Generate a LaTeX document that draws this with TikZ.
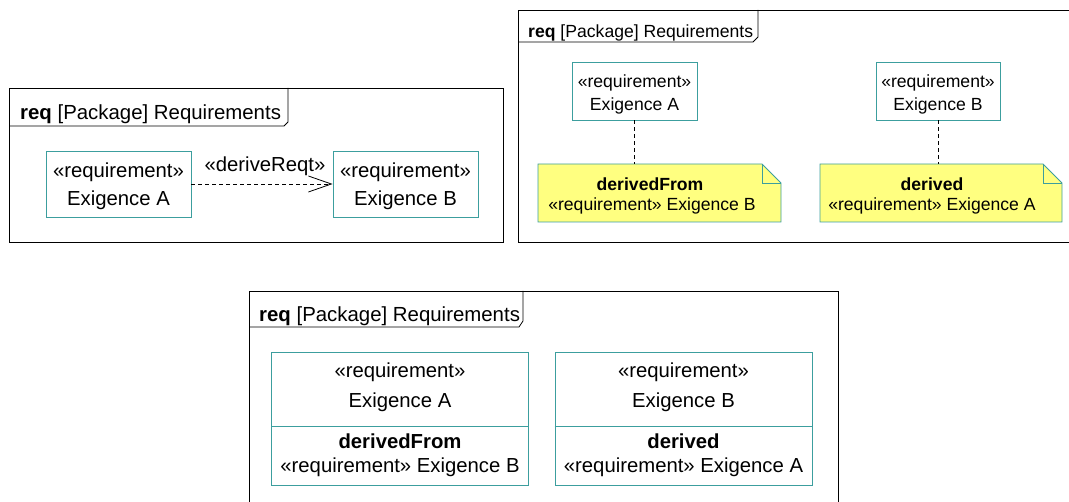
\documentclass[tikz,border=0pt]{standalone}
\usepackage{fontspec}
\setmainfont{Liberation Sans}
\usetikzlibrary{arrows.meta,calc}
\definecolor{reqteal}{RGB}{60,158,158}
\definecolor{noteyellow}{RGB}{255,255,128}
\begin{document}
\begin{tikzpicture}[x=1pt,y=-1pt,
  frame/.style={draw=black,line width=0.8pt},
  reqbox/.style={draw=reqteal,line width=0.8pt,fill=white,rectangle,inner sep=0pt},
  bigtxt/.style={inner sep=0pt,anchor=base,font=\fontsize{20.3}{24}\selectfont},
  smalltxt/.style={inner sep=0pt,anchor=base,font=\fontsize{17.6}{21}\selectfont},
  titlebig/.style={inner sep=0pt,anchor=base west,font=\fontsize{20.4}{24}\selectfont},
  titlesmall/.style={inner sep=0pt,anchor=base west,font=\fontsize{17.6}{21}\selectfont},
  dep/.style={draw=black,line width=0.9pt,dash pattern=on 4pt off 3pt},
  notefill/.style={draw=reqteal,line width=0.8pt,fill=noteyellow}
]
\useasboundingbox (0,0) rectangle (1069,502);

% ---------------- Diagram 1 ----------------
\draw[frame] (9,88) rectangle (503,242);
\draw[frame] (9,126) -- (284,126) -- (288,122) -- (288,88);
\node[titlebig] (t1) at (20,119.5) {\textbf{req} [Package] Requirements};

\node[reqbox,minimum width=145pt,minimum height=66pt] (a1) at (118.5,184) {};
\node[reqbox,minimum width=145pt,minimum height=66pt] (b1) at (405.5,184) {};
\node[bigtxt] (a1s) at (118.5,177.5) {«requirement»};
\node[bigtxt] (a1n) at (118.5,206) {Exigence A};
\node[bigtxt] (b1s) at (405.5,177.5) {«requirement»};
\node[bigtxt] (b1n) at (405.5,206) {Exigence B};
\draw[dep,-{Straight Barb[length=23pt,width=16pt,line width=0.8pt]}] (a1.east) -- (b1.west);
\node[bigtxt] (d1) at (265,172) {«deriveReqt»};

% ---------------- Diagram 2 ----------------
\draw[frame] (1069,10) -- (518,10) -- (518,242) -- (1069,242);
\draw[frame] (518,42) -- (753,42) -- (758,37) -- (758,10);
\node[titlesmall] (t2) at (528,37.5) {\textbf{req} [Package] Requirements};

\node[reqbox,minimum width=125pt,minimum height=58pt] (a2) at (634.5,91) {};
\node[reqbox,minimum width=124pt,minimum height=58pt] (b2) at (938,91) {};
\node[smalltxt] (a2s) at (634.5,87.5) {«requirement»};
\node[smalltxt] (a2n) at (634.5,111) {Exigence A};
\node[smalltxt] (b2s) at (938,87.5) {«requirement»};
\node[smalltxt] (b2n) at (938,111) {Exigence B};

\coordinate (na2) at (659.5,164);
\coordinate (nb2) at (941,164);
\draw[notefill] (538,164) -- (762,164) -- (781,183) -- (781,222) -- (538,222) -- cycle;
\draw[draw=reqteal,line width=0.8pt] (762,164) -- (762,183) -- (781,183);
\draw[notefill] (820,164) -- (1043,164) -- (1062,183) -- (1062,222) -- (820,222) -- cycle;
\draw[draw=reqteal,line width=0.8pt] (1043,164) -- (1043,183) -- (1062,183);
\node[smalltxt] (na2t) at (650,190.5) {\textbf{derivedFrom}};
\node[smalltxt] (na2u) at (652,210.5) {«requirement» Exigence B};
\node[smalltxt] (nb2t) at (932,190.5) {\textbf{derived}};
\node[smalltxt] (nb2u) at (932,210.5) {«requirement» Exigence A};
\draw[dep] (a2.south) -- (a2.south |- na2);
\draw[dep] (b2.south) -- (b2.south |- nb2);

% ---------------- Diagram 3 ----------------
\draw[frame] (249,502) -- (249,291) -- (838,291) -- (838,502);
\draw[frame] (249,327) -- (519,327) -- (523,321) -- (523,291);
\node[titlebig] (t3) at (259,321.5) {\textbf{req} [Package] Requirements};

\node[reqbox,minimum width=257pt,minimum height=133pt] (a3) at (400,418.5) {};
\node[reqbox,minimum width=257pt,minimum height=133pt] (b3) at (683.5,418.5) {};
\draw[draw=reqteal,line width=0.8pt] (a3.west |- 0,426) -- (a3.east |- 0,426);
\draw[draw=reqteal,line width=0.8pt] (b3.west |- 0,426) -- (b3.east |- 0,426);
\node[bigtxt] (a3s) at (400,378) {«requirement»};
\node[bigtxt] (a3n) at (400,407.5) {Exigence A};
\node[bigtxt] (a3t) at (400,449) {\textbf{derivedFrom}};
\node[bigtxt] (a3u) at (400,472.5) {«requirement» Exigence B};
\node[bigtxt] (b3s) at (683.5,378) {«requirement»};
\node[bigtxt] (b3n) at (683.5,407.5) {Exigence B};
\node[bigtxt] (b3t) at (683.5,449) {\textbf{derived}};
\node[bigtxt] (b3u) at (683.5,472.5) {«requirement» Exigence A};
\end{tikzpicture}
\end{document}
